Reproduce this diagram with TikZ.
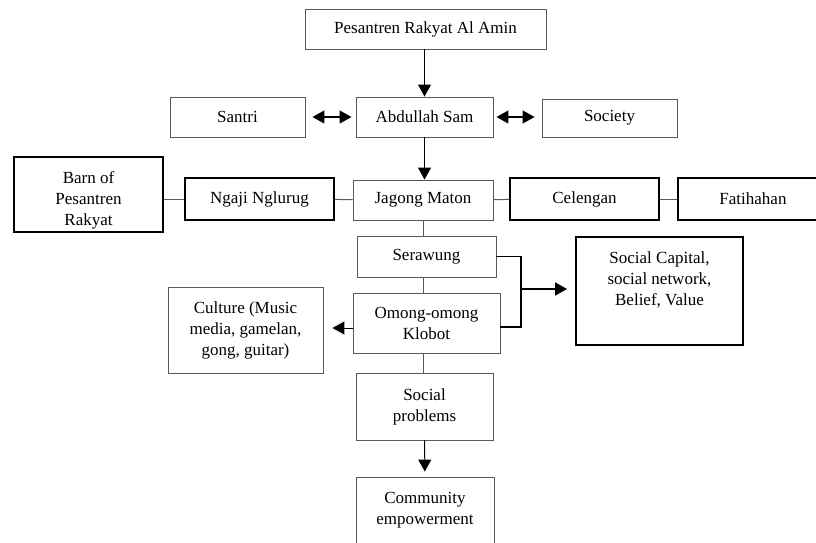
\documentclass[tikz,border=0pt]{standalone}
\usepackage{fontspec}
\setmainfont{Liberation Serif}
\usetikzlibrary{arrows.meta}
\tikzset{>={Triangle[length=12pt,width=13pt]},
  box/.style={draw=black!65, line width=0.9pt, align=center, inner sep=2pt,
    font=\fontsize{17}{21}\selectfont},
  thickbox/.style={box, draw=black, line width=1.8pt},
  toptext/.style={box, draw=none, anchor=north, yshift=-13pt},
  link/.style={draw=black!65, line width=1pt},
  arrow/.style={draw=black, line width=1pt, ->},
  bracket/.style={draw=black, line width=1.5pt}}

\begin{document}
\begin{tikzpicture}[x=1pt, y=-1pt]
    \useasboundingbox (0,0) rectangle (816,542);
    % first rows
    \node[box, minimum width=241pt, minimum height=40pt] (pesantren) at (425.5,29) {Pesantren Rakyat Al Amin};
    \node[box, minimum width=135pt, minimum height=40pt] (santri) at (237.5,117) {Santri};
    \node[box, minimum width=137pt, minimum height=40pt] (abdullah) at (424.5,117) {Abdullah Sam};
    \node[box, minimum width=135pt, minimum height=38pt] (society) at (609.5,118) {Society};
    % middle row
    \node[thickbox, minimum width=149pt, minimum height=75pt,
      label={[toptext]north:{Barn of\\Pesantren\\Rakyat}}] (barn) at (88.5,194.5) {};
    \node[thickbox, minimum width=149pt, minimum height=42pt] (ngaji) at (259.5,199) {Ngaji Nglurug};
    \node[box, minimum width=140pt, minimum height=40pt] (jagong) at (423,200) {Jagong Maton};
    \node[thickbox, minimum width=149pt, minimum height=42pt] (celengan) at (584.5,199) {Celengan};
    \node[thickbox, minimum width=150pt, minimum height=42pt] (fatihahan) at (753,199) {Fatihahan};
    % lower part
    \node[box, minimum width=139pt, minimum height=41pt] (serawung) at (426.5,256.5) {Serawung};
    \node[box, minimum width=147pt, minimum height=60pt] (omong) at (426.5,323) {Omong-omong\\Klobot};
    \node[box, minimum width=155pt, minimum height=86pt] (culture) at (245.5,330) {Culture (Music\\media, gamelan,\\gong, guitar)};
    \node[thickbox, minimum width=167pt, minimum height=108pt,
      label={[toptext]north:{Social Capital,\\social network,\\Belief, Value}}] (capital) at (659.5,291) {};
    \node[box, minimum width=137pt, minimum height=67pt] (problems) at (424.5,406.5) {Social\\problems};
    \node[box, minimum width=138pt, minimum height=70pt,
      label={[toptext]north:{Community\\empowerment}}] (community) at (425,512) {};
    \coordinate (fork) at (521,289);

    \draw[arrow] (abdullah |- pesantren.south) -- (abdullah);
    \draw[arrow, line width=1.4pt, <->, shorten <=7pt, shorten >=4pt] (santri) -- (abdullah);
    \draw[arrow, line width=1.4pt, <->, shorten <=3pt, shorten >=7pt] (abdullah.east) -- (abdullah.east -| society.west);
    \draw[arrow] (abdullah) -- (abdullah |- jagong.north);
    \draw[link] (ngaji.west) -- (ngaji.west -| barn.east);
    \draw[link] (ngaji) -- (jagong);
    \draw[link] (jagong) -- (celengan);
    \draw[link] (celengan) -- (fatihahan);
    \draw[link] (jagong.south) -- (jagong.south |- serawung.north);
    \draw[link] (jagong.south |- serawung.south) -- (jagong.south |- omong.north);
    \draw[link] (jagong.south |- omong.south) -- (jagong.south |- problems.north);
    \draw[arrow, shorten >=9pt] ([yshift=-5pt]omong.west) -- ([yshift=-5pt]omong.west -| culture.east);
    \draw[bracket] (serawung.east) -| ([yshift=-4pt]omong.east -| fork) -- ([yshift=-4pt]omong.east);
    \draw[bracket, ->, shorten >=8pt] (fork) -- (fork -| capital.west);
    \draw[arrow, shorten >=5pt] (problems) -- (community);
\end{tikzpicture}
\end{document}
